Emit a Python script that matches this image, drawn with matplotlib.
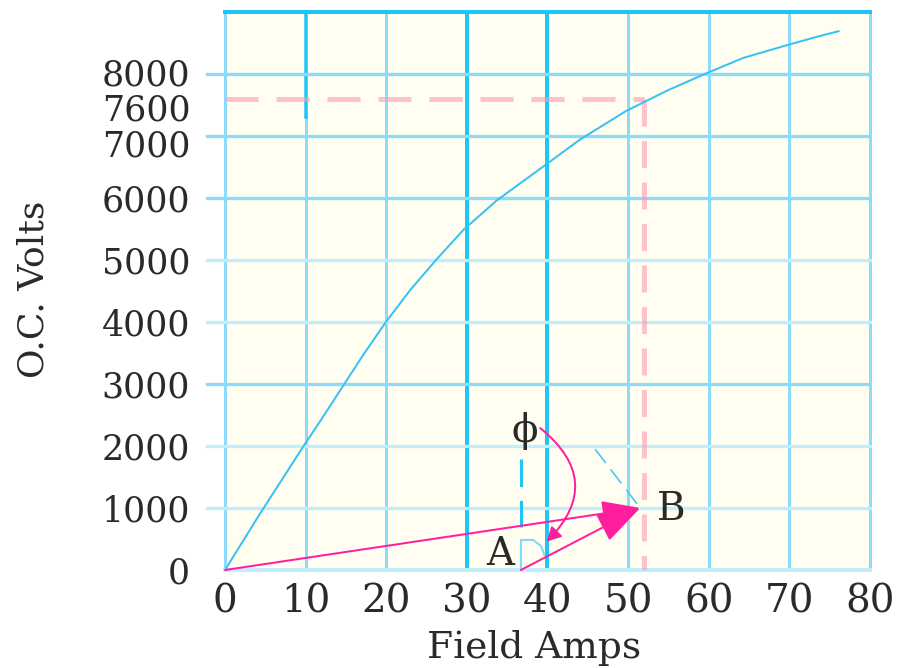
import matplotlib
matplotlib.use("Agg")
import matplotlib.pyplot as plt

# open circuit characteristic
field_amps = [0, 4.3, 9.7, 11.8, 14.3, 17.2, 19.9, 23.0, 26.1, 29.6, 33.7,
              39.5, 44.0, 49.7, 54.8, 59.5, 64.3, 69.3, 73.4, 76.1]
oc_volts = [0, 900, 1990, 2400, 2900, 3480, 3990, 4520, 4990, 5490, 5960,
            6510, 6940, 7400, 7730, 8000, 8260, 8450, 8600, 8690]

x_ticks = [0, 10, 20, 30, 40, 50, 60, 70, 80]
y_ticks = [0, 1000, 2000, 3000, 4000, 5000, 6000, 7000, 8000]
rated_volts = 7600
rated_amps = 52

# phasor sketch points
point_o = (0, 0)
point_a = (36.7, 0)
point_b = (51.5, 1000)
phi_pos = (37.2, 2246)

CREAM = '#FFFEF0'
DARK_CYAN = '#1EC6F6'
MID_CYAN = '#8ADBFC'
LIGHT_CYAN = '#C2EEFB'
CURVE = '#36C2F5'
MAGENTA = '#FF1F9E'
TEXT = '#2a2a2a'
px = 0.72  # one pixel in points at 100 dpi

plt.rcParams['font.family'] = ['DejaVu Serif']

fig = plt.figure(figsize=(9.04, 6.68), dpi=100)
ax = fig.add_axes([225 / 904, 1 - 570 / 668, 645 / 904, 558 / 668])
ax.set_facecolor(CREAM)
ax.set_xlim(0, 80)
ax.set_ylim(0, 9000)
for s in ax.spines.values():
    s.set_visible(False)

# grid
for x in x_ticks:
    if x in (30, 40):
        ax.plot([x, x], [0, 9000], color=DARK_CYAN, lw=4 * px, zorder=1, clip_on=False)
    elif x == 10:
        ax.plot([x, x], [0, 7300], color=MID_CYAN, lw=3 * px, zorder=1, clip_on=False)
        ax.plot([x, x], [7300, 9000], color=DARK_CYAN, lw=3.5 * px, zorder=1, clip_on=False)
    else:
        ax.plot([x, x], [0, 9000], color=MID_CYAN, lw=3 * px, zorder=1, clip_on=False)
for y in y_ticks:
    if y == 0:
        ax.plot([0, 80], [0, 0], color=LIGHT_CYAN, lw=4 * px, zorder=1, clip_on=False)
        continue
    c = MID_CYAN if y in (3000, 6000, 7000, 8000) else LIGHT_CYAN
    ax.plot([-2.2, 80], [y, y], color=c, lw=3.3 * px, zorder=1, clip_on=False)
ax.plot([0, 80], [9000, 9000], color=DARK_CYAN, lw=4 * px, zorder=2, clip_on=False)

# rated point guide lines
ax.plot([0, rated_amps], [rated_volts, rated_volts], color='#FF9AB4', alpha=0.6,
        lw=5 * px, dashes=(6.6, 3.6), zorder=2)
ax.plot([rated_amps, rated_amps], [rated_volts, 0], color='#FF9AB4', alpha=0.6,
        lw=5 * px, dashes=(5.4, 2.9), zorder=2)

# the curve
ax.plot(field_amps, oc_volts, color=CURVE, lw=2 * px, zorder=3)

# phasor sketch
ax.plot([point_a[0], point_a[0]], [1790, 700], color=DARK_CYAN, lw=3 * px,
        dashes=(9.2, 4.6), zorder=3)
ax.plot([36.7, 36.7, 38.2, 39.2, 39.6], [0, 485, 485, 388, 242],
        color='#7FD8FA', lw=2 * px, zorder=3)
ax.plot([45.9, point_b[0]], [1950, point_b[1]], color='#40C8F8', lw=1.6 * px,
        dashes=(11, 5), zorder=3)

ax.annotate('', xy=point_b, xytext=point_o, zorder=4,
            arrowprops=dict(arrowstyle='-|>,head_length=1.2,head_width=0.4',
                            color=MAGENTA, lw=2 * px, mutation_scale=20,
                            shrinkA=0, shrinkB=0))
ax.annotate('', xy=point_b, xytext=point_a, zorder=4,
            arrowprops=dict(arrowstyle='-|>,head_length=1.37,head_width=0.47',
                            color=MAGENTA, lw=2 * px, mutation_scale=20,
                            shrinkA=0, shrinkB=0))
ax.annotate('', xy=(39.9, 457), xytext=(39.1, 2289), zorder=4,
            arrowprops=dict(arrowstyle='-|>,head_length=0.85,head_width=0.45',
                            color=MAGENTA, lw=2 * px, mutation_scale=10,
                            shrinkA=0, shrinkB=0,
                            connectionstyle='arc3,rad=-0.55'))

ax.text(34.1, 81, 'A', fontsize=28, color=TEXT, ha='center', va='baseline', zorder=5)
ax.text(55.3, 808, 'B', fontsize=28, color=TEXT, ha='center', va='baseline', zorder=5)
ax.text(phi_pos[0], phi_pos[1], 'ϕ', fontsize=28, color=TEXT, ha='center',
        va='center', zorder=5)

# ticks; 8000, 7600 and 7000 sit close, so they are nudged apart
crowded = {8000: 1.5, rated_volts: -6, 7000: -5}
ax.set_xticks(x_ticks)
ax.set_yticks(y_ticks)
ax.set_yticklabels(['' if v in crowded else str(v) for v in y_ticks])
ax.tick_params(length=0, labelcolor=TEXT)
ax.tick_params(axis='x', pad=10, labelsize=28)
ax.tick_params(axis='y', pad=25, labelsize=25)
for v, dy in crowded.items():
    ax.annotate(str(v), xy=(0, v), xytext=(-25, dy), textcoords='offset points',
                ha='right', va='center_baseline', fontsize=25, color=TEXT,
                annotation_clip=False)

fig.text(534 / 904, 1 - 658 / 668, 'Field Amps', fontsize=27, color=TEXT,
         ha='center', va='baseline')
fig.text(34 / 904, 1 - 289 / 668, 'O.C. Volts', fontsize=26, color=TEXT,
         rotation=90, ha='center', va='center')

fig.savefig('out.png', dpi=100, facecolor='white')
